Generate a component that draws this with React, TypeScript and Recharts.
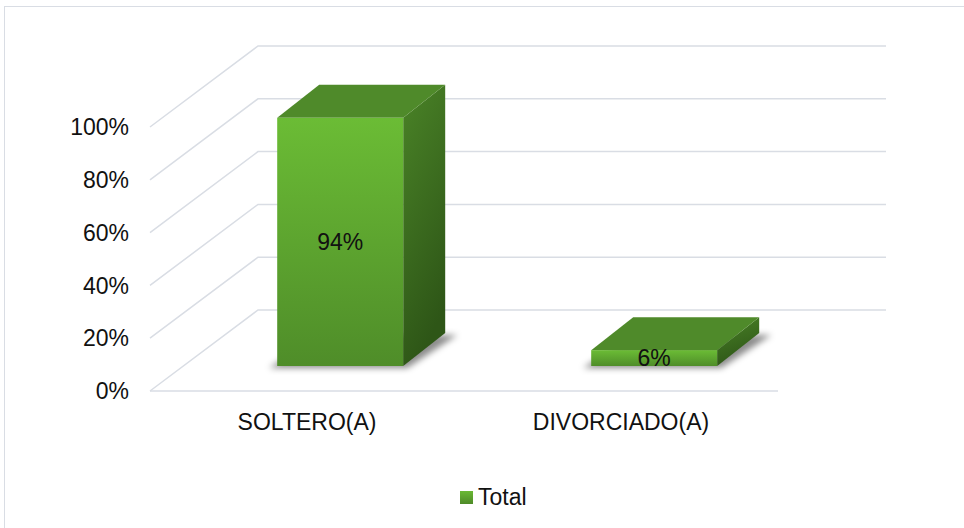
import React from "react";
import { BarChart, Bar, XAxis, YAxis, CartesianGrid, Legend, LabelList, ReferenceLine } from "recharts";

const categories = ["SOLTERO(A)", "DIVORCIADO(A)"];
const totals = [0.94, 0.06];
const yTicks = [0, 0.2, 0.4, 0.6, 0.8, 1];
const seriesName = "Total";

const data = categories.map((c, i) => ({ name: c, [seriesName]: totals[i] }));

const FONT = "'Liberation Sans', Arial, sans-serif";
const GRID = "#d9dde4";
// 3D offsets: back wall, bar front face, bar depth
const WALL = { dx: 108, dy: -81 };
const OFF = { dx: 33, dy: -25 };
const DEPTH = { dx: 42, dy: -33 };

const pct = (v: number) => `${Math.round(v * 100)}%`;

const WallLine = (p: any) => {
  const { x1, y1, x2 } = p;
  const by = y1 + WALL.dy;
  return (
    <path key={p.key} d={`M${x1},${y1}L${x1 + WALL.dx},${by}L${x2 + WALL.dx},${by}`}
      fill="none" stroke={GRID} strokeWidth={1.5}/>
  );
};

const Bar3D = (p: any) => {
  const { x, y, width, height } = p;
  const fx = x + OFF.dx, fy = y + OFF.dy, fr = fx + width, fb = y + height + OFF.dy;
  const { dx, dy } = DEPTH;
  return (
    <g>
      <polygon filter="url(#shadowBlur)" fill="rgba(0,0,0,0.45)"
        points={`${fx - 8},${fb + 2} ${fr + 4},${fb + 2} ${fr + dx + 12},${fb + dy + 2} ${fx + dx},${fb + dy + 2}`}/>
      <polygon fill="url(#sideGrad)"
        points={`${fr},${fy} ${fr + dx},${fy + dy} ${fr + dx},${fb + dy} ${fr},${fb}`}/>
      <polygon fill="#4f8a2a"
        points={`${fx},${fy} ${fx + dx},${fy + dy} ${fr + dx},${fy + dy} ${fr},${fy}`}/>
      <rect x={fx} y={fy} width={width} height={fb - fy} fill="url(#frontGrad)"/>
    </g>
  );
};

const BarLabel = (p: any) => (
  <text x={p.x + p.width / 2 + OFF.dx} y={p.y + p.height / 2 + OFF.dy} textAnchor="middle"
    dominantBaseline="central" fontSize={23} fontFamily={FONT} fill="#111">{pct(p.value)}</text>
);

const LegendBox = () => (
  <div style={{ display: 'flex', alignItems: 'center', height: 30, fontFamily: FONT, fontSize: 23, color: '#111' }}>
    <span style={{ display: 'inline-block', width: 13, height: 13, marginRight: 5,
      background: 'linear-gradient(#6ab934, #4e8a28)' }}/>
    {seriesName}
  </div>
);

export default function App() {
  return (
    <div style={{ position: 'absolute', left: 0, top: 0, width: 964, height: 528, overflow: 'hidden', background: 'white' }}>
      <div style={{ position: 'absolute', left: 4, top: 6, width: 1000, height: 600, border: `1.5px solid ${GRID}` }}/>
      <div style={{ position: 'absolute', left: 0, top: 0 }}>
        <BarChart width={964} height={528} data={data} barCategoryGap="30%"
          margin={{ top: 127, right: 186, bottom: 77, left: 90 }}>
          <defs>
            <linearGradient id="frontGrad" x1="0" y1="0" x2="0" y2="1">
              <stop offset="0%" stopColor="#6bbc35"/>
              <stop offset="100%" stopColor="#4f8d29"/>
            </linearGradient>
            <linearGradient id="sideGrad" x1="0" y1="0" x2="0.3" y2="1">
              <stop offset="0%" stopColor="#4a8327"/>
              <stop offset="100%" stopColor="#2e5617"/>
            </linearGradient>
            <filter id="shadowBlur" x="-20%" y="-50%" width="140%" height="200%">
              <feGaussianBlur stdDeviation="3"/>
            </filter>
          </defs>
          <CartesianGrid vertical={false} horizontal={WallLine}/>
          <XAxis dataKey="name" axisLine={false} tickLine={false} height={30} tickMargin={17}
            tick={{ fontSize: 23, fontFamily: FONT, fill: '#111' }}/>
          <YAxis domain={[0, 1]} ticks={yTicks} tickFormatter={pct} width={60} axisLine={false}
            tickLine={false} tickMargin={15} tick={{ fontSize: 23, fontFamily: FONT, fill: '#111' }}/>
          <ReferenceLine y={0} stroke={GRID} strokeWidth={1.5}/>
          <Legend content={<LegendBox/>} wrapperStyle={{ left: 460, top: 482, width: 120, height: 30 }}/>
          <Bar dataKey={seriesName} shape={<Bar3D/>} isAnimationActive={false}>
            <LabelList dataKey={seriesName} content={<BarLabel/>}/>
          </Bar>
        </BarChart>
      </div>
    </div>
  );
}
